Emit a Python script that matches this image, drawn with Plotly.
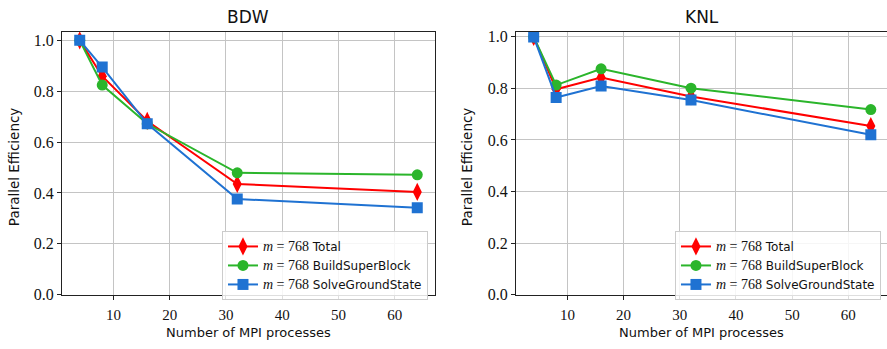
import plotly.graph_objects as go

# MPI process counts
procs = [4, 8, 16, 32, 64]

# Parallel efficiency, BDW nodes
bdw_total = [1.0, 0.859, 0.683, 0.435, 0.404]
bdw_build = [1.0, 0.824, 0.672, 0.479, 0.471]
bdw_solve = [1.0, 0.895, 0.672, 0.376, 0.342]

# Parallel efficiency, KNL nodes
knl_total = [1.0, 0.797, 0.842, 0.769, 0.654]
knl_build = [1.0, 0.813, 0.876, 0.801, 0.718]
knl_solve = [1.0, 0.765, 0.809, 0.755, 0.620]

titles = ["BDW", "KNL"]
series_names = ["Total", "BuildSuperBlock", "SolveGroundState"]
x_ticks = [10, 20, 30, 40, 50, 60]
y_ticks = [0.0, 0.2, 0.4, 0.6, 0.8, 1.0]

RED = "#ff0000"
GREEN = "#2bb52b"
BLUE = "#1f72d2"
SERIF = "'Liberation Serif', 'Times New Roman', Times, serif"
SANS = "'DejaVu Sans', sans-serif"

styles = [
    dict(color=RED, symbol="diamond-tall", size=13),
    dict(color=GREEN, symbol="circle", size=11),
    dict(color=BLUE, symbol="square", size=11),
]


def legend_label(name):
    return (f"<span style=\"font-family:{SERIF};font-size:14px\"><i>m</i> = 768</span> "
            f"{name}")


fig = go.Figure()

panels = [
    (1, [bdw_total, bdw_build, bdw_solve], "legend"),
    (2, [knl_total, knl_build, knl_solve], "legend2"),
]

for idx, values, legend_id in panels:
    xa = "x" if idx == 1 else "x2"
    ya = "y" if idx == 1 else "y2"
    for name, ys, st in zip(series_names, values, styles):
        fig.add_trace(go.Scatter(
            x=procs, y=ys, mode="lines+markers",
            name=legend_label(name),
            line=dict(color=st["color"], width=2),
            marker=dict(color=st["color"], symbol=st["symbol"], size=st["size"],
                        line=dict(width=0)),
            xaxis=xa, yaxis=ya, legend=legend_id,
        ))

axis_common = dict(
    showgrid=True, gridcolor="#c4c4c4", gridwidth=1,
    showline=True, linecolor="#222222", linewidth=1.2,
    ticks="outside", ticklen=4, tickcolor="#222222", tickwidth=1,
    zeroline=False,
)
x_tickfont = dict(family=SERIF, size=15, color="#111111")
y_tickfont = dict(family=SERIF, size=16, color="#111111")

y_dom = [0.1347, 0.914]

legend_common = dict(
    xanchor="right", y=0.3236, yanchor="top",
    bgcolor="rgba(255,255,255,0.85)", bordercolor="#cccccc", borderwidth=1,
    font=dict(family=SANS, size=12, color="#111111"),
    tracegroupgap=0, itemwidth=30,
)

fig.update_layout(
    width=887, height=349,
    margin=dict(l=0, r=0, t=0, b=0),
    paper_bgcolor="white", plot_bgcolor="white",
    showlegend=True,
    xaxis=dict(domain=[0.0699, 0.4904], range=[0.85, 67.15], tickvals=x_ticks,
               mirror=True, ticklabelstandoff=2, tickfont=x_tickfont, **axis_common),
    yaxis=dict(domain=y_dom, range=[0, 1.033], tickvals=y_ticks, tickformat=".1f",
               mirror=True, tickfont=y_tickfont, **axis_common),
    xaxis2=dict(domain=[0.5817, 1.0], range=[0.85, 66.88], tickvals=x_ticks,
                anchor="y2", mirror=True, ticklabelstandoff=2, tickfont=x_tickfont,
                **axis_common),
    yaxis2=dict(domain=y_dom, range=[0, 1.019], tickvals=y_ticks, tickformat=".1f",
                anchor="x2", tickfont=y_tickfont, **axis_common),
    legend=dict(x=0.4825, **legend_common),
    legend2=dict(x=0.9932, **legend_common),
)

# Panel titles and axis labels
annotations = []
for cx, title in [(248, titles[0]), (701.5, titles[1])]:
    annotations.append(dict(x=cx / 887, y=1 - 15 / 349, xref="paper", yref="paper",
                            xanchor="center", yanchor="middle",
                            text=title, showarrow=False,
                            font=dict(family=SANS, size=17, color="#111111")))
for cx in [248, 701.5]:
    annotations.append(dict(x=cx / 887, y=1 - 341 / 349, xref="paper", yref="paper",
                            xanchor="center", yanchor="middle",
                            text="Number of MPI processes", showarrow=False,
                            font=dict(family=SANS, size=13, color="#111111")))
for cx in [14, 467]:
    annotations.append(dict(x=cx / 887, y=1 - 170 / 349, xref="paper", yref="paper",
                            xanchor="center", yanchor="middle",
                            text="Parallel Efficiency", showarrow=False, textangle=-90,
                            font=dict(family=SANS, size=13.5, color="#111111")))
fig.update_layout(annotations=annotations)

fig.write_html("out.html")
